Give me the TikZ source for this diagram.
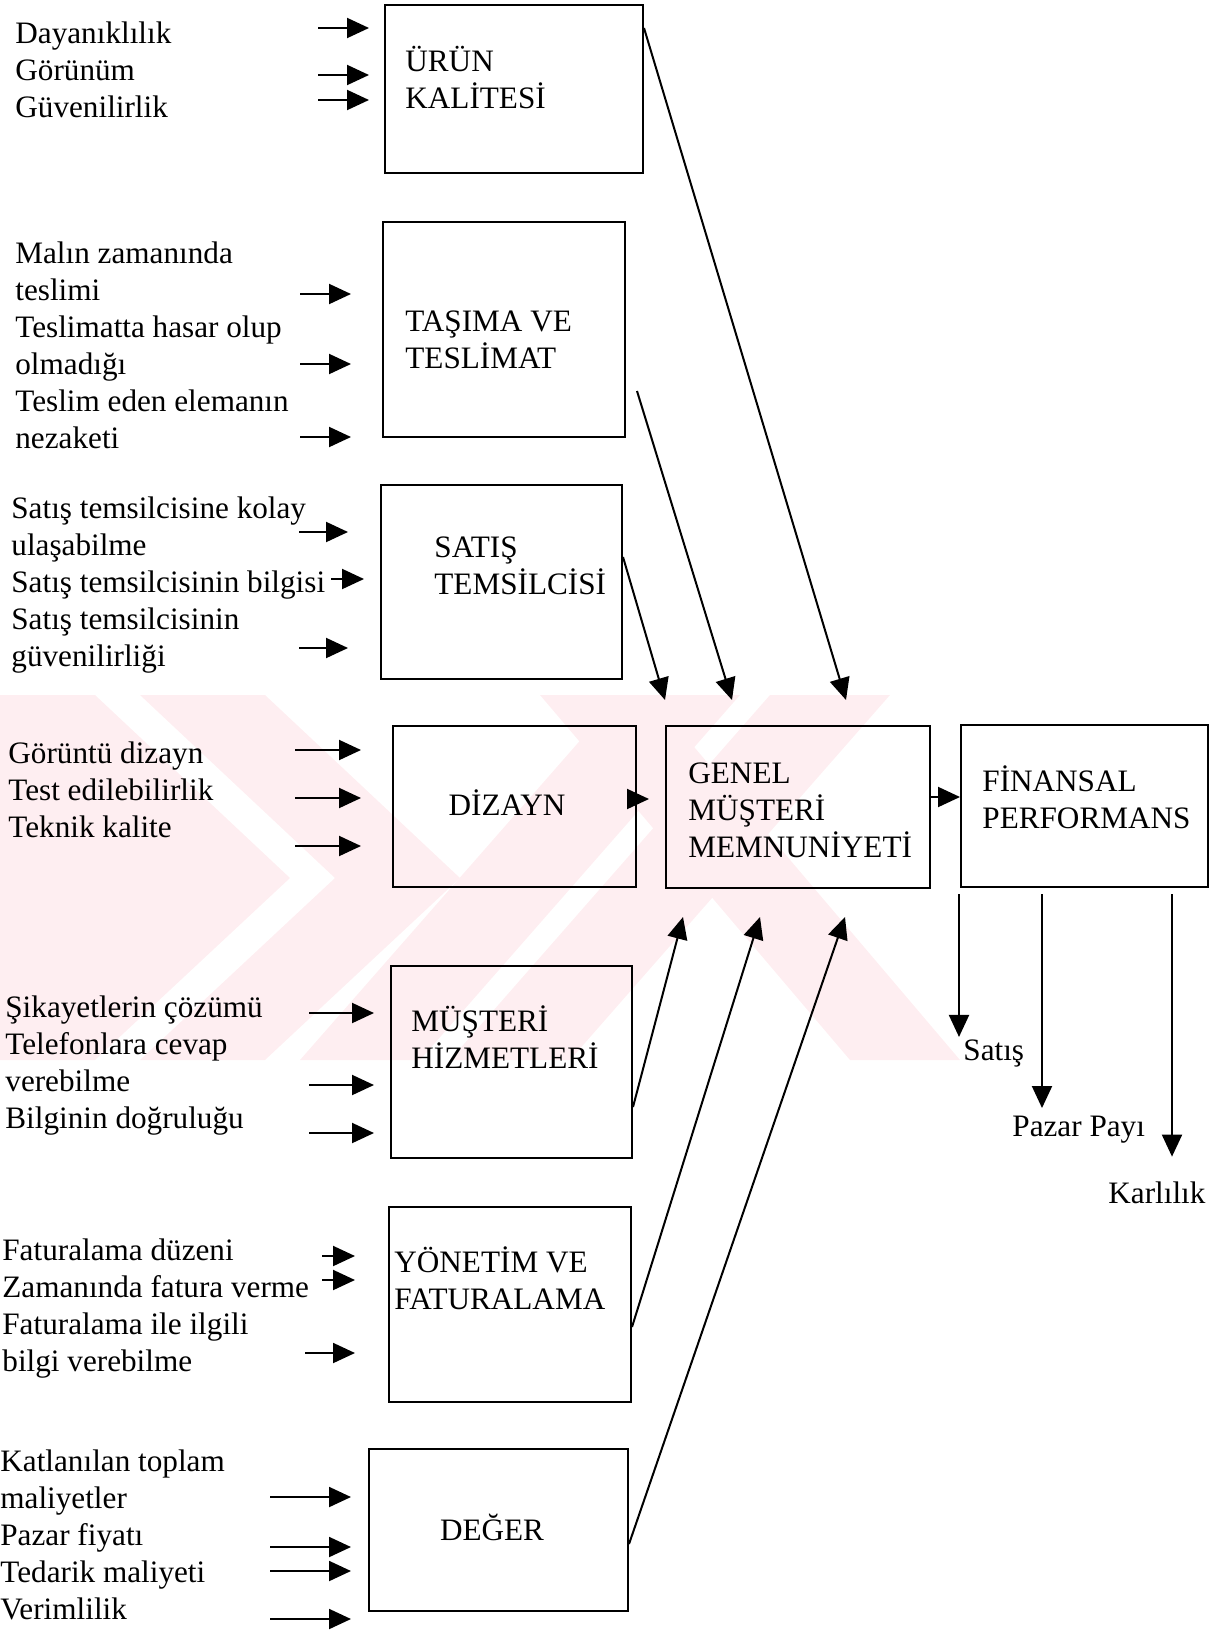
\documentclass[tikz,border=0pt]{standalone}
\usepackage{fontspec}
\setmainfont{Liberation Serif}
\usetikzlibrary{arrows.meta,fit}
\definecolor{filigran}{RGB}{254,238,241}

\begin{document}
\begin{tikzpicture}[x=0.5pt,y=-0.5pt,
  every node/.style={font=\fontsize{15.6}{18.5}\selectfont,inner sep=0pt},
  kutu/.style={draw,line width=1pt},
  yazi/.style={align=left,anchor=west},
  ok/.style={-{Triangle[length=11pt,width=10pt]},line width=1pt}]
  \useasboundingbox (0,0) rectangle (1225,1633);

  \fill[filigran] (0,695) -- (95,695) -- (290,878) -- (95,1060) -- (0,1060) -- cycle;
  \fill[filigran] (140,695) -- (265,695) -- (460,878) -- (265,1060) -- (140,1060) -- (335,878) -- cycle;
  \fill[filigran] (300,1060) -- (420,1060) -- (740,695) -- (620,695) -- cycle;
  \fill[filigran] (450,1060) -- (570,1060) -- (890,695) -- (770,695) -- cycle;
  \fill[filigran] (540,695) -- (650,695) -- (960,1060) -- (850,1060) -- cycle;

  \node[kutu,fit={(385,5) (643,173)}]      (uk) {};
  \node[kutu,fit={(383,222) (625,437)}]    (tt) {};
  \node[kutu,fit={(381,485) (622,679)}]    (st) {};
  \node[kutu,fit={(393,726) (636,887)}]    (dz) {};
  \node[kutu,fit={(666,726) (930,888)}]    (gm) {};
  \node[kutu,fit={(961,725) (1208,887)}]   (fp) {};
  \node[kutu,fit={(391,966) (632,1158)}]   (mh) {};
  \node[kutu,fit={(389,1207) (631,1402)}]  (yf) {};
  \node[kutu,fit={(369,1449) (628,1611)}]  (dg) {};

  \node[yazi] (uk-y) at (405,78)   {ÜRÜN\\KALİTESİ};
  \node[yazi] (tt-y) at (405,340)  {TAŞIMA VE\\TESLİMAT};
  \node[yazi] (st-y) at (434,566)  {SATIŞ\\TEMSİLCİSİ};
  \node       (dz-y) at (507,803)  {DİZAYN};
  \node[yazi] (gm-y) at (688,810)  {GENEL\\MÜŞTERİ\\MEMNUNİYETİ};
  \node[yazi] (fp-y) at (982,797)  {FİNANSAL\\PERFORMANS};
  \node[yazi] (mh-y) at (411,1037) {MÜŞTERİ\\HİZMETLERİ};
  \node[yazi] (yf-y) at (394,1278) {YÖNETİM VE\\FATURALAMA};
  \node       (dg-y) at (492,1527) {DEĞER};

  \node[yazi] (g1) at (15,70)    {Dayanıklılık\\Görünüm\\Güvenilirlik};
  \node[yazi] (g2) at (15,345)   {Malın zamanında\\teslimi\\Teslimatta hasar olup\\olmadığı\\Teslim eden elemanın\\nezaketi};
  \node[yazi] (g3) at (11,585)   {Satış temsilcisine kolay\\ulaşabilme\\Satış temsilcisinin bilgisi\\Satış temsilcisinin\\güvenilirliği};
  \node[yazi] (g4) at (8,790)    {Görüntü dizayn\\Test edilebilirlik\\Teknik kalite};
  \node[yazi] (g5) at (5,1066)   {Şikayetlerin çözümü\\Telefonlara cevap\\verebilme\\Bilginin doğruluğu};
  \node[yazi] (g6) at (2,1309)   {Faturalama düzeni\\Zamanında fatura verme\\Faturalama ile ilgili\\bilgi verebilme};
  \node[yazi] (g7) at (0,1535)   {Katlanılan toplam\\maliyetler\\Pazar fiyatı\\Tedarik maliyeti\\Verimlilik};

  \node[anchor=west] (satis)    at (963,1053)  {Satış};
  \node[anchor=west] (pazar)    at (1012,1130) {Pazar Payı};
  \node[anchor=west] (karlilik) at (1108,1193) {Karlılık};

  \foreach \y in {28,75,100}
    \draw[ok,shorten >=7.5pt] (318,\y) -- (uk.west |- 0,\y);
  \foreach \y in {294,364,437}
    \draw[ok,shorten >=15.5pt] (300,\y) -- (tt.west |- 0,\y);
  \draw[ok,shorten >=16pt] (299,532) -- (st.west |- 0,532);
  \draw[ok,shorten >=8pt] (331,579) -- (st.west |- 0,579);
  \draw[ok,shorten >=16pt] (299,648) -- (st.west |- 0,648);
  \foreach \y in {750,798,846}
    \draw[ok,shorten >=15.5pt] (295,\y) -- (dz.west |- 0,\y);
  \foreach \y in {1013,1085,1133}
    \draw[ok,shorten >=8pt] (309,\y) -- (mh.west |- 0,\y);
  \draw[ok,shorten >=16.5pt] (322,1256) -- (yf.west |- 0,1256);
  \draw[ok,shorten >=16.5pt] (322,1280) -- (yf.west |- 0,1280);
  \draw[ok,shorten >=16.5pt] (305,1353) -- (yf.west |- 0,1353);
  \foreach \y in {1497,1547,1571,1619}
    \draw[ok,shorten >=8.5pt] (270,\y) -- (dg.west |- 0,\y);

  \coordinate (tt-c) at (637,391);
  \coordinate (gm-u1) at (665,700);
  \coordinate (gm-u2) at (732,700);
  \coordinate (gm-u3) at (846,700);
  \coordinate (gm-a1) at (683,917);
  \coordinate (gm-a2) at (760,917);
  \coordinate (gm-a3) at (845,917);

  \draw[ok] (uk.east |- 0,28) -- (gm-u3);
  \draw[ok] (tt-c) -- (gm-u2);
  \draw[ok] (st.east |- 0,557) -- (gm-u1);
  \draw[ok] (mh.east |- 0,1107) -- (gm-a1);
  \draw[ok] (yf.east |- 0,1327) -- (gm-a2);
  \draw[ok] (dg.east |- 0,1544) -- (gm-a3);

  \draw[ok,shorten >=8pt] (dz.east |- 0,799) -- (gm.west |- 0,799);
  \draw[ok] (gm.east |- 0,797) -- (fp.west |- 0,797);

  \draw[ok,shorten <=3pt,shorten >=1pt] (fp.south -| 959,0) -- (satis.north -| 959,0);
  \draw[ok,shorten <=3pt,shorten >=4pt] (fp.south -| 1042,0) -- (pazar.north -| 1042,0);
  \draw[ok,shorten <=3pt,shorten >=12.5pt] (fp.south -| 1172,0) -- (karlilik.north -| 1172,0);
\end{tikzpicture}
\end{document}
